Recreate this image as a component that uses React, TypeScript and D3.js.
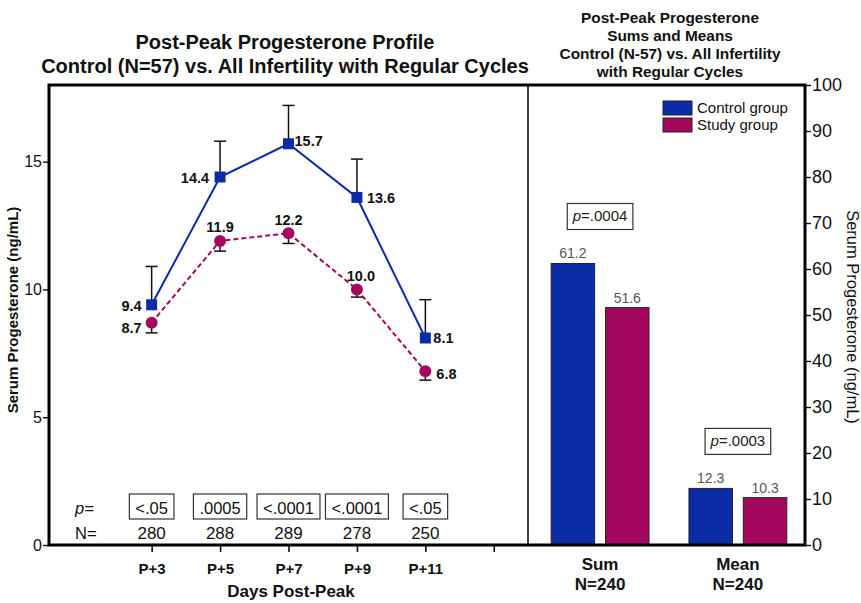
import { useEffect, useRef } from "react";
import * as d3 from "d3";

// left panel: daily profile
const days = [3, 5, 7, 9, 11];
const dayTicks = [3, 5, 7, 9, 11, 13];
const dayLabels = ["P+3", "P+5", "P+7", "P+9", "P+11", ""];
const controlMeans = [9.4, 14.4, 15.7, 13.6, 8.1];
const controlErr = [1.5, 1.4, 1.5, 1.5, 1.5];
const studyMeans = [8.7, 11.9, 12.2, 10.0, 6.8];
const studyErr = [0.4, 0.4, 0.4, 0.3, 0.35];
const pValues = ["<.05", ".0005", "<.0001", "<.0001", "<.05"];
const nValues = [280, 288, 289, 278, 250];

// right panel: sums and means
const barCategories = ["Sum", "Mean"];
const barN = ["N=240", "N=240"];
const groups = ["Control group", "Study group"];
const controlBars = [61.2, 12.3];
const studyBars = [51.6, 10.3];
const barP = [".0004", ".0003"];

const W = 861;
const H = 603;
const FONT = "'Liberation Sans', Arial, Helvetica, sans-serif";
const BLUE = "#0b2ca6";
const MAGENTA = "#a3085c";

// label placement for point values: [dx, dy, anchor]
const controlLabelPos: [number, number, string][] = [
  [-10, 1, "end"],
  [-11, 1, "end"],
  [6, -3, "start"],
  [10, 0, "start"],
  [8, 0, "start"],
];
const studyLabelPos: [number, number, string][] = [
  [-10, 5, "end"],
  [0, -14, "middle"],
  [0, -13, "middle"],
  [4, -14, "middle"],
  [11, 3, "start"],
];

const App = () => {
  const ref = useRef<SVGSVGElement>(null);

  useEffect(() => {
    const svg = d3.select(ref.current);
    svg.selectAll("*").remove();

    const left = 49,
      mid = 528,
      right = 805,
      top = 85,
      bottom = 545;

    const x = d3.scaleLinear().domain([0, 14]).range([left, mid]);
    const yL = d3.scaleLinear().domain([0, 18]).range([bottom, top]);
    const yR = d3.scaleLinear().domain([0, 100]).range([bottom, top]);
    const xBand = d3
      .scaleBand()
      .domain(barCategories)
      .range([mid, right])
      .paddingInner(0.29)
      .paddingOuter(0.15)
      .align(0.56);
    const xSub = d3
      .scaleBand()
      .domain(groups)
      .range([0, xBand.bandwidth()])
      .paddingInner(0.2);

    // titles
    const title = svg
      .append("g")
      .attr("font-weight", "bold")
      .attr("text-anchor", "middle")
      .attr("fill", "#111");
    title
      .append("text")
      .attr("x", 285)
      .attr("y", 49)
      .attr("font-size", 20)
      .text("Post-Peak Progesterone Profile");
    title
      .append("text")
      .attr("x", 285)
      .attr("y", 73)
      .attr("font-size", 20)
      .text("Control (N=57) vs. All Infertility with Regular Cycles");
    [
      "Post-Peak Progesterone",
      "Sums and Means",
      "Control (N-57) vs. All Infertility",
      "with Regular Cycles",
    ].forEach((t, i) => {
      title
        .append("text")
        .attr("x", 670)
        .attr("y", 23 + i * 18)
        .attr("font-size", 15.4)
        .text(t);
    });

    // left axis (major + minor ticks)
    const gL = svg.append("g").attr("transform", `translate(${left},0)`);
    gL.call(
      d3.axisLeft(yL).tickValues(d3.range(0, 19)).tickSize(4).tickFormat(() => "")
    );
    gL.call(
      d3.axisLeft(yL).tickValues([0, 5, 10, 15]).tickSize(6).tickPadding(1)
    );
    gL.selectAll(".domain").remove();
    gL.selectAll("line").attr("stroke-width", 1.4).attr("stroke", "#111");
    gL.selectAll("text")
      .attr("font-size", 16)
      .attr("font-family", FONT)
      .attr("fill", "#111");

    // x axis
    const gX = svg.append("g").attr("transform", `translate(0,${bottom})`);
    gX.call(
      d3
        .axisBottom(x)
        .tickValues(dayTicks)
        .tickSize(7)
        .tickPadding(11)
        .tickFormat((_, i) => dayLabels[i])
    );
    gX.selectAll(".domain").remove();
    gX.selectAll("line").attr("stroke-width", 1.6).attr("stroke", "#111");
    gX.selectAll("text")
      .attr("font-size", 15)
      .attr("font-weight", "bold")
      .attr("font-family", FONT)
      .attr("fill", "#111");

    // right axis
    const gR = svg.append("g").attr("transform", `translate(${right},0)`);
    gR.call(d3.axisRight(yR).ticks(10).tickSize(6).tickPadding(1));
    gR.selectAll(".domain").remove();
    gR.selectAll("line").attr("stroke-width", 1.4).attr("stroke", "#111");
    gR.selectAll("text")
      .attr("font-size", 18)
      .attr("font-family", FONT)
      .attr("fill", "#111");

    // axis titles
    svg
      .append("text")
      .attr("transform", `translate(18,310) rotate(-90)`)
      .attr("text-anchor", "middle")
      .attr("font-size", 15)
      .attr("font-weight", "bold")
      .attr("fill", "#111")
      .text("Serum Progesterone (ng/mL)");
    svg
      .append("text")
      .attr("transform", `translate(847,317) rotate(90)`)
      .attr("text-anchor", "middle")
      .attr("font-size", 16.5)
      .attr("fill", "#111")
      .text("Serum Progesterone (ng/mL)");
    svg
      .append("text")
      .attr("x", 291)
      .attr("y", 597)
      .attr("text-anchor", "middle")
      .attr("font-size", 17)
      .attr("font-weight", "bold")
      .attr("fill", "#111")
      .text("Days Post-Peak");

    // lines
    const line = d3
      .line<number>()
      .x((_, i) => x(days[i]))
      .y((d) => yL(d));
    svg
      .append("path")
      .datum(studyMeans)
      .attr("fill", "none")
      .attr("stroke", MAGENTA)
      .attr("stroke-width", 2)
      .attr("stroke-dasharray", "5,3")
      .attr("d", line);
    svg
      .append("path")
      .datum(controlMeans)
      .attr("fill", "none")
      .attr("stroke", BLUE)
      .attr("stroke-width", 2)
      .attr("d", line);

    // error bars
    const errG = svg
      .append("g")
      .attr("stroke", "#111")
      .attr("stroke-width", 1.5);
    controlMeans.forEach((m, i) => {
      const cx = x(days[i]);
      const yt = yL(m + controlErr[i]);
      errG.append("line").attr("x1", cx).attr("x2", cx).attr("y1", yL(m)).attr("y2", yt);
      errG.append("line").attr("x1", cx - 6).attr("x2", cx + 6).attr("y1", yt).attr("y2", yt);
    });
    studyMeans.forEach((m, i) => {
      const cx = x(days[i]);
      const yb = yL(m - studyErr[i]);
      errG.append("line").attr("x1", cx).attr("x2", cx).attr("y1", yL(m)).attr("y2", yb);
      errG.append("line").attr("x1", cx - 6).attr("x2", cx + 6).attr("y1", yb).attr("y2", yb);
    });

    // markers
    svg
      .append("g")
      .selectAll("circle")
      .data(studyMeans)
      .join("circle")
      .attr("cx", (_, i) => x(days[i]))
      .attr("cy", (d) => yL(d))
      .attr("r", 6)
      .attr("fill", MAGENTA);
    svg
      .append("g")
      .selectAll("rect")
      .data(controlMeans)
      .join("rect")
      .attr("x", (_, i) => x(days[i]) - 5.5)
      .attr("y", (d) => yL(d) - 5.5)
      .attr("width", 11)
      .attr("height", 11)
      .attr("fill", BLUE);

    // point labels
    const lab = svg
      .append("g")
      .attr("font-size", 14.5)
      .attr("font-weight", "bold")
      .attr("fill", "#111");
    controlMeans.forEach((m, i) => {
      const [dx, dy, anchor] = controlLabelPos[i];
      lab
        .append("text")
        .attr("x", x(days[i]) + dx)
        .attr("y", yL(m) + dy)
        .attr("dy", "0.35em")
        .attr("text-anchor", anchor)
        .text(m.toFixed(1));
    });
    studyMeans.forEach((m, i) => {
      const [dx, dy, anchor] = studyLabelPos[i];
      lab
        .append("text")
        .attr("x", x(days[i]) + dx)
        .attr("y", yL(m) + dy)
        .attr("dy", "0.35em")
        .attr("text-anchor", anchor)
        .text(m.toFixed(1));
    });

    // p and N rows
    const rows = svg.append("g").attr("font-size", 16.5).attr("fill", "#111");
    rows
      .append("text")
      .attr("x", 75)
      .attr("y", 514)
      .attr("font-style", "italic")
      .text("p=");
    rows.append("text").attr("x", 75).attr("y", 539).text("N=");
    pValues.forEach((p, i) => {
      const cx = x(days[i]);
      const t = rows
        .append("text")
        .attr("x", cx)
        .attr("y", 514)
        .attr("text-anchor", "middle")
        .text(p);
      const bb = (t.node() as SVGTextElement).getBBox();
      rows
        .insert("rect", "text")
        .attr("x", cx - bb.width / 2 - 6)
        .attr("y", 494)
        .attr("width", bb.width + 12)
        .attr("height", 25)
        .attr("fill", "#fff")
        .attr("stroke", "#333")
        .attr("stroke-width", 1.2);
    });
    nValues.forEach((n, i) => {
      rows
        .append("text")
        .attr("x", x(days[i]))
        .attr("y", 539)
        .attr("text-anchor", "middle")
        .attr("font-size", 17)
        .text(n);
    });

    // bars
    const barG = svg.append("g");
    barCategories.forEach((c, ci) => {
      const vals = [controlBars[ci], studyBars[ci]];
      vals.forEach((v, gi) => {
        const bx = (xBand(c) ?? 0) + (xSub(groups[gi]) ?? 0);
        barG
          .append("rect")
          .attr("x", bx)
          .attr("y", yR(v))
          .attr("width", xSub.bandwidth())
          .attr("height", bottom - yR(v))
          .attr("fill", gi === 0 ? BLUE : MAGENTA)
          .attr("stroke", "#222")
          .attr("stroke-width", 1);
        barG
          .append("text")
          .attr("x", bx + xSub.bandwidth() / 2)
          .attr("y", yR(v) - 5)
          .attr("text-anchor", "middle")
          .attr("font-size", 14)
          .attr("fill", "#555")
          .text(v.toFixed(1));
      });

      // p box above group
      const cx = (xBand(c) ?? 0) + xBand.bandwidth() / 2;
      const boxBottom = yR(d3.max(vals) ?? 0) - 34;
      const t = barG
        .append("text")
        .attr("x", cx)
        .attr("y", boxBottom - 8)
        .attr("text-anchor", "middle")
        .attr("font-size", 15)
        .attr("fill", "#222");
      t.append("tspan").attr("font-style", "italic").text("p");
      t.append("tspan").text("=" + barP[ci]);
      const bb = (t.node() as SVGTextElement).getBBox();
      barG
        .insert("rect", "text")
        .attr("x", cx - bb.width / 2 - 5)
        .attr("y", boxBottom - 26)
        .attr("width", bb.width + 10)
        .attr("height", 26)
        .attr("fill", "#fff")
        .attr("stroke", "#333")
        .attr("stroke-width", 1.2);

      // category labels
      barG
        .append("text")
        .attr("x", cx)
        .attr("y", 570)
        .attr("text-anchor", "middle")
        .attr("font-size", 17)
        .attr("font-weight", "bold")
        .attr("fill", "#111")
        .text(c);
      barG
        .append("text")
        .attr("x", cx)
        .attr("y", 590)
        .attr("text-anchor", "middle")
        .attr("font-size", 17)
        .attr("font-weight", "bold")
        .attr("fill", "#111")
        .text(barN[ci]);
    });

    // legend
    const leg = svg.append("g").attr("transform", "translate(663,101)");
    groups.forEach((g, i) => {
      leg
        .append("rect")
        .attr("x", 0)
        .attr("y", i * 17)
        .attr("width", 29)
        .attr("height", 14)
        .attr("fill", i === 0 ? BLUE : MAGENTA)
        .attr("stroke", "#222")
        .attr("stroke-width", 1);
      leg
        .append("text")
        .attr("x", 34)
        .attr("y", i * 17 + 12)
        .attr("font-size", 15)
        .attr("fill", "#111")
        .text(g);
    });

    // frame
    const frame = svg.append("g").attr("stroke", "#000").attr("fill", "none");
    frame
      .append("path")
      .attr("stroke-width", 3)
      .attr("d", `M${left},${bottom}V${top}H${right}V${bottom}H${left}Z`);
    frame
      .append("line")
      .attr("stroke-width", 1.5)
      .attr("x1", mid)
      .attr("x2", mid)
      .attr("y1", top)
      .attr("y2", bottom);
  }, []);

  return (
    <svg
      ref={ref}
      width={W}
      height={H}
      fontFamily={FONT}
      style={{ position: "absolute", left: 0, top: 0, background: "#fff" }}
    ></svg>
  );
};

export default App;
